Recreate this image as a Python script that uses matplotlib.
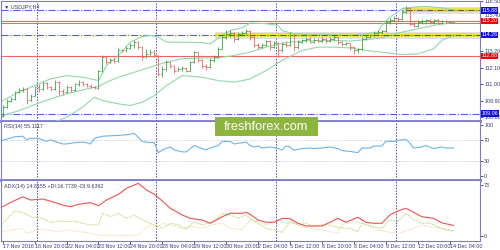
import matplotlib
matplotlib.use("Agg")
import matplotlib.pyplot as plt
from matplotlib.patches import Rectangle
from matplotlib.transforms import blended_transform_factory

plt.rcParams["font.family"] = ["Liberation Sans", "DejaVu Sans"]

# ---- data ----
symbol = "USDJPY,H4"
first_open = 108.92
closes = [109.52, 109.92, 110.03, 110.47, 110.62, 110.69, 109.95, 110.25, 110.80, 110.69,
          111.06, 110.80, 110.69, 111.13, 110.58, 110.47, 110.84, 110.62, 110.98, 111.13,
          110.98, 110.91, 110.84, 110.76, 111.86, 112.79, 112.46, 112.57, 112.52, 113.27,
          113.23, 113.38, 113.56, 113.78, 113.49, 112.79, 113.01, 113.12, 112.90, 111.68,
          112.01, 112.46, 112.23, 111.90, 112.01, 112.05, 111.90, 112.46, 113.12, 112.57,
          112.23, 112.12, 112.57, 112.83, 113.34, 114.11, 114.33, 114.38, 114.00, 114.33,
          114.38, 114.51, 114.11, 113.56, 113.45, 113.56, 113.85, 113.45, 113.71, 113.23,
          113.67, 113.56, 114.22, 113.45, 113.78, 113.89, 114.00, 113.78, 113.93, 113.85,
          114.00, 113.85, 114.02, 114.11, 113.78, 113.67, 113.71, 113.45, 113.23, 113.30,
          114.00, 114.11, 114.22, 114.40, 114.44, 114.51, 115.10, 115.26, 115.39, 115.33,
          115.77, 116.05, 115.00, 114.88, 115.10, 115.17, 115.22, 115.10, 115.22, 115.04,
          115.17, 115.10, 115.08, 115.04]
highs = [109.60, 110.00, 110.15, 110.55, 110.75, 110.80, 110.75, 110.35, 110.90, 111.00,
         111.20, 111.15, 110.90, 111.25, 111.20, 110.70, 110.95, 110.90, 111.10, 111.25,
         111.20, 111.05, 110.98, 110.90, 111.95, 112.95, 112.85, 112.70, 112.70, 113.40,
         113.35, 113.50, 113.70, 113.95, 113.85, 113.55, 113.30, 113.30, 113.25, 112.95,
         112.20, 112.60, 112.55, 112.30, 112.15, 112.20, 112.15, 112.55, 113.20, 113.15,
         112.65, 112.35, 112.70, 112.95, 113.45, 114.20, 114.55, 114.60, 114.45, 114.45,
         114.50, 114.65, 114.55, 114.20, 113.70, 113.70, 113.95, 113.90, 113.85, 113.80,
         113.80, 113.85, 114.45, 114.30, 113.90, 114.00, 114.10, 114.10, 114.05, 114.05,
         114.10, 114.05, 114.12, 114.25, 114.15, 113.85, 113.80, 113.75, 113.50, 113.40,
         114.10, 114.25, 114.35, 114.50, 114.55, 114.60, 115.25, 115.40, 115.50, 115.45,
         115.90, 116.14, 116.10, 115.20, 115.25, 115.30, 115.32, 115.30, 115.30, 115.28,
         115.25, 115.22, 115.18, 115.12]
lows = [108.85, 109.45, 109.80, 109.95, 110.40, 110.50, 109.70, 109.90, 110.20, 110.50,
        110.60, 110.65, 110.55, 110.60, 110.30, 110.30, 110.40, 110.50, 110.55, 110.90,
        110.85, 110.80, 110.75, 110.65, 110.70, 111.80, 112.35, 112.40, 112.40, 112.45,
        113.10, 113.15, 113.30, 113.40, 113.35, 112.60, 112.75, 112.90, 112.80, 111.55,
        111.45, 111.90, 112.10, 111.75, 111.85, 111.90, 111.80, 111.85, 112.40, 112.45,
        112.10, 111.95, 112.05, 112.50, 112.75, 113.30, 114.00, 114.10, 113.80, 113.90,
        114.20, 114.30, 113.90, 113.45, 113.35, 113.40, 113.50, 113.25, 113.40, 112.80,
        113.15, 113.45, 113.50, 113.20, 113.35, 113.70, 113.80, 113.70, 113.70, 113.78,
        113.80, 113.75, 113.80, 113.95, 113.65, 113.55, 113.60, 113.25, 113.00, 113.05,
        113.25, 113.90, 114.05, 114.15, 114.30, 114.35, 114.45, 115.00, 115.15, 115.15,
        115.25, 115.70, 114.90, 114.75, 114.80, 114.95, 115.00, 114.95, 115.00, 114.95,
        115.00, 115.00, 115.02, 115.02]

# Bollinger bands (bar index, price)
bb_upper_bar = [0, 4, 8, 12, 16, 20, 24, 26, 29, 32, 35, 37, 39, 41, 45, 50, 52, 55, 57, 60,
                62, 66, 69, 70, 73, 79, 83, 87, 91, 94, 95, 97, 99, 100, 103, 106, 110, 113]
bb_upper = [109.92, 110.47, 110.91, 111.35, 111.57, 111.46, 111.24, 112.24, 112.90, 113.78,
            114.16, 114.22, 114.11, 113.78, 113.78, 113.74, 113.67, 114.22, 114.55, 114.73,
            115.04, 115.00, 114.88, 114.55, 114.33, 114.29, 114.27, 114.22, 114.33, 114.44,
            114.88, 115.44, 115.77, 115.99, 116.10, 116.14, 116.05, 115.92]
bb_mid_bar = [0, 4, 8, 12, 16, 20, 24, 26, 29, 33, 37, 41, 45, 50, 54, 58, 62,
              66, 70, 75, 79, 83, 87, 91, 95, 100, 104, 108, 113]
bb_mid = [108.92, 109.25, 109.65, 110.03, 110.36, 110.62, 110.85, 111.13, 111.46, 111.79,
          112.13, 112.46, 112.68, 112.74, 112.74, 112.90, 113.12, 113.45, 113.71, 113.85,
          113.89, 113.89, 113.85, 113.94, 114.07, 114.44, 114.66, 114.88, 115.10]
bb_lower_bar = [0, 6, 10, 14, 16, 20, 23, 25, 29, 32, 35, 38, 41, 45, 50, 54, 58, 62,
                66, 70, 75, 79, 83, 87, 91, 95, 100, 104, 108, 110, 113]
bb_lower = [107.90, 108.00, 108.30, 108.60, 108.81, 109.48, 110.14, 109.92, 109.70, 109.59,
            109.81, 110.25, 110.91, 111.57, 111.46, 111.24, 111.13, 111.35, 111.90, 112.57,
            113.23, 113.45, 113.45, 113.40, 113.23, 113.12, 112.96, 113.00, 113.34, 113.89,
            114.22]

# RSI(14)
rsi_bar = [0, 3, 5, 6, 7, 9, 10, 11, 12, 13, 15, 16, 18, 20, 21, 22, 23, 25, 26, 29, 31, 33,
           34, 35, 36, 38, 39, 40, 41, 42, 43, 45, 46, 47, 48, 50, 51, 52, 54, 55, 57, 58, 60,
           61, 62, 63, 64, 65, 67, 69, 70, 71, 72, 73, 75, 77, 78, 80, 82, 84, 85, 87, 89, 90,
           92, 93, 95, 96, 98, 99, 101, 102, 103, 105, 106, 108, 110, 111, 113]
rsi = [70, 77, 78, 71, 74, 74, 71, 68, 71, 68, 63, 63, 65.5, 66.6, 65.5, 63, 74, 78, 78.5,
       79.6, 81, 83.5, 75.6, 68, 66.6, 65.5, 45.8, 51.4, 54.2, 57, 51.4, 47.5, 47.5, 54, 60,
       54, 51.4, 55, 60, 68, 68, 63, 65.5, 66.6, 60, 57, 59, 55, 57, 54, 51, 59, 57, 51, 54,
       55, 54, 55, 57, 54, 50, 48.6, 46, 55, 55, 59, 59, 68, 68, 70, 72, 65, 55, 57, 60, 54,
       57, 55, 55.1]
rsi_levels = [70, 30]

# ADX(14) with +DI / -DI
adx_bar = [0, 2, 5, 7, 10, 13, 15, 17, 19, 22, 24, 26, 29, 31, 34, 36, 38, 40, 42, 45, 47,
           50, 52, 55, 57, 60, 61, 62, 64, 66, 68, 70, 72, 74, 76, 78, 80, 82, 84, 86, 89,
           91, 93, 95, 97, 99, 101, 103, 105, 108, 110, 113]
adx = [41.8, 48, 56, 51.4, 52.9, 48, 44.2, 41.8, 45.2, 47.6, 43.2, 51.4, 59.6, 68.3, 75.5,
       65.9, 59.6, 50, 39.5, 29.8, 25, 22.6, 17.9, 27.4, 32.3, 32.3, 33.7, 30.8, 22.6, 19.3,
       19.3, 25, 24.5, 17.9, 14, 14, 14, 19.3, 25, 19.3, 26.5, 19.3, 17.9, 17.9, 29.8, 35.6,
       39.5, 33.7, 27.4, 25, 18.6, 14.8]
pdi_bar = [0, 2, 3, 5, 7, 9, 10, 12, 14, 16, 18, 20, 22, 24, 25, 27, 29, 31, 33, 35, 37, 39,
           40, 42, 44, 46, 48, 50, 53, 55, 57, 59, 61, 62, 64, 66, 68, 70, 72, 74, 76, 78, 80,
           82, 84, 87, 89, 90, 93, 95, 97, 99, 101, 103, 105, 107, 109, 111, 113]
pdi = [17.9, 29.8, 35.6, 33.7, 27.4, 26, 25, 19.3, 21.1, 20.2, 21.1, 17.9, 15.5, 15.5, 32.3,
       27.4, 32.3, 25, 29.8, 22.6, 17.9, 13, 10.6, 17.9, 15.5, 9.6, 20.2, 15.5, 21.1, 32.3,
       29.8, 25, 29.8, 25, 17.9, 10.6, 8.2, 4.8, 20.2, 15.5, 17.9, 13, 15.5, 15.5, 11.6, 10.6,
       5.8, 17.9, 13, 10.6, 22.6, 20.2, 32.3, 22.6, 17.9, 17.9, 13, 8.2, 6.8]
mdi_bar = [0, 2, 5, 6, 9, 11, 14, 16, 19, 21, 24, 26, 29, 31, 34, 35, 37, 39, 40, 42, 45, 47,
           50, 52, 55, 57, 60, 62, 64, 66, 69, 71, 73, 75, 77, 80, 82, 84, 85, 88, 90, 92, 94,
           96, 99, 101, 103, 105, 107, 110, 112, 113]
mdi = [6, 8.2, 10.6, 3.4, 9.6, 8.2, 5.8, 8.2, 5.8, 4.8, 1, 0.5, 0.5, 0.3, 0.5, 8.2, 15.5, 13,
       17.9, 15.5, 10.6, 13, 10.6, 15.5, 17.9, 10.6, 8.2, 22.6, 20.2, 15.5, 22.6, 17.9, 19.3,
       13, 10.6, 8.2, 5.8, 3.4, 15.5, 20.2, 17.9, 13, 8.2, 5.8, 3.4, 6.9, 10.6, 15.5, 13, 10.6,
       8.2, 6.9]

# x axis labels (bar index of each label)
label_bars = [0, 8, 16, 24, 32, 40, 48, 56, 64, 72, 80, 88, 96, 104, 112]
date_labels = ["17 Nov 2016", "18 Nov 20:00", "22 Nov 04:00", "23 Nov 12:00",
               "24 Nov 20:00", "28 Nov 04:00", "29 Nov 12:00", "30 Nov 20:00",
               "2 Dec 04:00", "5 Dec 12:00", "6 Dec 20:00", "8 Dec 04:00",
               "9 Dec 12:00", "12 Dec 20:00", "14 Dec 04:00"]
week_starts = [9, 39, 69, 99]

# horizontal levels drawn on the price chart
blue_levels = [115.88, 114.26, 109.06]
red_levels = [115.20, 112.88]
bid_level = 115.06
yellow_levels = [114.26, 115.88]
yellow_start = [54, 101]
price_ticks = [116.50, 115.40, 113.20, 112.10, 111.00, 109.90, 108.80]

opens = [first_open] + closes[:-1]
n = len(closes)

FRAME = "#7b7bcc"
TXT = "#3a3a6a"
UP = "#3aa83a"
DN = "#f06464"
BAND = "#8fd8a8"
BLUE = "#5a5af0"
FS = 3.9

fig = plt.figure(figsize=(5, 2.5), dpi=100)
fig.patch.set_facecolor("white")
left, right = 0.002, 0.96
ax = fig.add_axes([left, 0.518, right - left, 0.478])
ax_rsi = fig.add_axes([left, 0.28, right - left, 0.234])
ax_adx = fig.add_axes([left, 0.036, right - left, 0.24])

for a in (ax, ax_rsi, ax_adx):
    a.set_xlim(-0.43, 119.6)
    for s in a.spines.values():
        s.set_color(FRAME)
        s.set_linewidth(0.8)
    a.spines["top"].set_visible(a is ax)
    a.yaxis.tick_right()
    a.tick_params(axis="y", labelsize=FS, colors=TXT, length=2, width=0.6, pad=1)
    a.tick_params(axis="x", length=0)
    a.set_xticks([])
    for wb in week_starts:
        a.axvline(wb - 0.5, color="#4a4aa0", lw=0.7, ls=(0, (1.5, 1.5)), zorder=1)
ax.spines["bottom"].set_linewidth(2)
ax_rsi.spines["bottom"].set_linewidth(2)

# ---- price panel ----
ax.set_ylim(108.6, 116.5)
ax.set_yticks(price_ticks)
ax.set_yticklabels([f"{v:.2f}" for v in price_ticks])
for lab in ax.get_yticklabels():
    if lab.get_text() == "115.40":
        lab.set_va("bottom")   # sits just above the 115.20 marker box

for lv in blue_levels:
    ax.axhline(lv, color=BLUE, lw=0.8, ls="-.", zorder=2)
for lv in red_levels:
    ax.axhline(lv, color=DN, lw=0.8, zorder=2)
ax.axhline(bid_level, color=DN, lw=0.7, zorder=2)
for lv, st in zip(yellow_levels, yellow_start):
    ax.plot([st, 119.6], [lv, lv], color="#cccccc", lw=5, alpha=0.6, zorder=2)
    ax.plot([st, 119.6], [lv, lv], color="#e8e428", lw=2.6, zorder=3)
    ax.plot([st, 119.6], [lv, lv], color="#555555", lw=0.7, ls="-.", zorder=4)

ax.plot(bb_upper_bar, bb_upper, color=BAND, lw=0.8, zorder=3)
ax.plot(bb_mid_bar, bb_mid, color=BAND, lw=0.8, zorder=3)
ax.plot(bb_lower_bar, bb_lower, color=BAND, lw=0.8, zorder=3)

for i in range(n):
    c = UP if closes[i] >= opens[i] else DN
    ax.vlines(i, lows[i], highs[i], colors=c, lw=0.6, zorder=5)
    ax.hlines(opens[i], i - 0.45, i, colors=c, lw=0.6, zorder=5)
    ax.hlines(closes[i], i, i + 0.45, colors=c, lw=0.6, zorder=5)

tr = blended_transform_factory(ax.transAxes, ax.transData)
for lv, col in [(115.88, "#1010e0"), (114.26, "#1010e0"), (109.06, "#1010e0"),
                (115.20, "#f00000"), (112.88, "#f00000")]:
    ax.text(1.003, lv, f"{lv:.2f}", transform=tr, fontsize=FS, color="white",
            va="center", ha="left", zorder=10, clip_on=False,
            bbox=dict(boxstyle="square,pad=0.12", fc=col, ec="none"))
ax.text(0.006, 0.975, "\u25bc " + symbol, transform=ax.transAxes, fontsize=FS,
        color=TXT, va="top", ha="left")

# ---- RSI panel ----
ax_rsi.set_ylim(-7.35, 106.8)
ax_rsi.set_yticks([100, 70, 30, 0])
for lv in rsi_levels:
    ax_rsi.axhline(lv, color="#c8c8c8", lw=0.6, ls=(0, (1.5, 1.5)))
ax_rsi.plot(rsi_bar, rsi, color="#6ab4f0", lw=0.8)
ax_rsi.text(0.006, 0.95, "RSI(14) 55.1117", transform=ax_rsi.transAxes,
            fontsize=FS, color=TXT, va="top", ha="left")

# ---- ADX panel ----
ax_adx.set_ylim(-7.6, 78.8)
ax_adx.set_yticks([73, 0])
ax_adx.plot(mdi_bar, mdi, color="#f5d6a8", lw=0.7, ls=(0, (1.5, 1)))
ax_adx.plot(pdi_bar, pdi, color="#b8d870", lw=0.7, ls=(0, (1.5, 1)))
ax_adx.plot(adx_bar, adx, color="#f05050", lw=0.8)
ax_adx.text(0.006, 0.95, "ADX(14) 14.8155 +DI:16.7739 -DI:9.6362",
            transform=ax_adx.transAxes, fontsize=FS, color=TXT, va="top", ha="left")
ax_adx.set_xticks(label_bars)
ax_adx.set_xticklabels(date_labels, fontsize=FS, color=TXT, ha="left")
ax_adx.tick_params(axis="x", length=2, width=0.6, colors=TXT, pad=0.5)

# watermark
fig.patches.append(Rectangle((0.43, 0.456), 0.206, 0.076, transform=fig.transFigure,
                             fc="#8db43c", ec="none", zorder=20))
fig.text(0.533, 0.494, "freshforex.com", color="white", fontsize=9.2,
         ha="center", va="center", zorder=21)

fig.savefig("out.png", dpi=100)
